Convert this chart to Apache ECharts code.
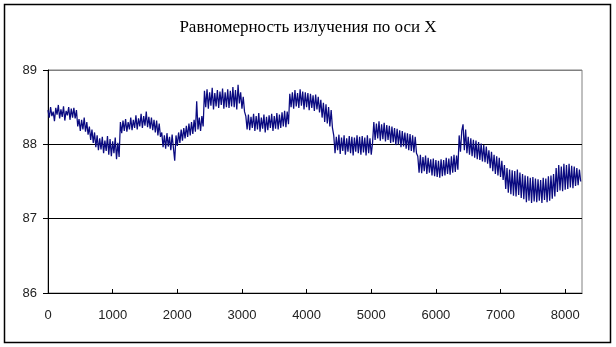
<!DOCTYPE html>
<html>
<head>
<meta charset="utf-8">
<script src="https://cdn.jsdelivr.net/npm/echarts@6/dist/echarts.min.js"></script>
<style>html,body{margin:0;padding:0;background:#fff}#c{width:616px;height:347px}</style>
</head>
<body>
<div id="c"></div>
<script>
var titleText = 'Равномерность излучения по оси X';
var sampleStep = 20; // x distance between samples
var xTickLabels = [0, 1000, 2000, 3000, 4000, 5000, 6000, 7000, 8000];
var yTickLabels = [86, 87, 88, 89];
var values = [
88.46,88.36,88.50,88.38,88.44,88.31,88.49,88.40,88.53,88.35,88.47,88.37,88.51,88.32,88.45,88.39,88.50,88.33,88.48,88.36,
88.49,88.35,88.46,88.24,88.34,88.18,88.33,88.20,88.36,88.17,88.30,88.13,88.24,88.06,88.20,88.02,88.16,87.96,88.12,87.92,
88.08,87.93,88.10,87.88,88.05,87.91,88.11,87.86,88.07,87.84,88.04,87.88,88.09,87.80,88.02,87.83,88.30,88.15,88.32,88.18,
88.34,88.17,88.30,88.20,88.36,88.19,88.33,88.22,88.39,88.20,88.35,88.24,88.41,88.22,88.38,88.25,88.44,88.23,88.37,88.21,
88.36,88.19,88.33,88.16,88.32,88.12,88.28,88.10,88.16,87.96,88.12,87.94,88.15,87.97,88.10,87.92,88.13,87.95,87.78,88.12,
87.98,88.16,88.02,88.20,88.05,88.22,88.08,88.25,88.10,88.28,88.12,88.30,88.14,88.33,88.17,88.58,88.20,88.36,88.18,88.38,
88.24,88.72,88.50,88.74,88.48,88.70,88.52,88.76,88.47,88.69,88.51,88.73,88.49,88.71,88.53,88.75,88.48,88.70,88.50,88.74,
88.49,88.72,88.51,88.77,88.50,88.73,88.47,88.80,88.55,88.70,88.48,88.64,88.44,88.38,88.20,88.40,88.19,88.37,88.22,88.41,
88.18,88.38,88.20,88.42,88.17,88.36,88.21,88.40,88.16,88.37,88.19,88.39,88.22,88.41,88.18,88.38,88.21,88.42,88.20,88.40,
88.22,88.43,88.24,88.45,88.23,88.44,88.27,88.68,88.50,88.70,88.48,88.73,88.51,88.69,88.49,88.74,88.52,88.71,88.47,88.70,
88.50,88.69,88.46,88.68,88.49,88.66,88.45,88.67,88.47,88.64,88.43,88.60,88.36,88.56,88.30,88.54,88.28,88.50,88.24,88.46,
88.22,88.12,87.88,88.10,87.92,88.13,87.87,88.09,87.91,88.12,87.86,88.08,87.90,88.11,87.88,88.10,87.85,88.09,87.90,88.12,
87.88,88.10,87.86,88.11,87.89,88.09,87.85,88.12,87.88,88.08,87.86,88.02,88.30,88.06,88.28,88.08,88.31,88.05,88.27,88.07,
88.29,88.04,88.26,88.06,88.25,88.02,88.24,88.03,88.22,87.99,88.21,88.00,88.19,87.96,88.18,87.97,88.16,87.94,88.15,87.92,
88.14,87.91,88.12,87.89,88.10,87.88,87.84,87.62,87.86,87.61,87.83,87.64,87.85,87.60,87.82,87.62,87.80,87.58,87.81,87.57,
87.79,87.56,87.78,87.55,87.80,87.57,87.79,87.58,87.82,87.60,87.81,87.59,87.84,87.62,87.86,87.63,87.85,87.66,88.12,87.90,
88.18,88.27,87.92,88.20,87.88,88.10,87.86,88.08,87.84,88.06,87.82,88.05,87.80,88.03,87.79,88.01,87.77,87.99,87.76,87.97,
87.74,87.92,87.68,87.90,87.64,87.86,87.60,87.84,87.58,87.82,87.56,87.78,87.52,87.72,87.40,87.68,87.35,87.66,87.33,87.65,
87.31,87.64,87.30,87.66,87.32,87.62,87.28,87.60,87.26,87.58,87.22,87.57,87.24,87.55,87.21,87.56,87.23,87.54,87.22,87.53,
87.24,87.52,87.21,87.55,87.25,87.54,87.22,87.57,87.24,87.58,87.27,87.60,87.30,87.68,87.36,87.72,87.38,87.70,87.37,87.74,
87.39,87.72,87.40,87.74,87.42,87.71,87.41,87.70,87.44,87.68,87.45,87.66,87.50
];
var xMax = 8260;

var seriesData = values.map(function (v, i) { return [i * sampleStep, v]; });

var chart = echarts.init(document.getElementById('c'), null, {renderer: 'canvas'});
chart.setOption({
  animation: false,
  backgroundColor: '#fff',
  title: {
    text: titleText, left: 'center', top: 14,
    textStyle: {fontFamily: 'Liberation Serif', fontSize: 17, fontWeight: 'normal', color: '#000'}
  },
  graphic: [{
    type: 'rect', shape: {x: 4.5, y: 4.5, width: 606, height: 338},
    style: {fill: null, stroke: '#000', lineWidth: 1.5}, z: 100
  }],
  grid: {left: 48, right: 34, top: 70, bottom: 54, show: true, borderColor: '#808080', borderWidth: 1, backgroundColor: '#fff'},
  xAxis: {
    type: 'value', min: 0, max: xMax, interval: 1000,
    axisLine: {lineStyle: {color: '#000', width: 1}},
    axisTick: {inside: true, length: 4, lineStyle: {color: '#000'}, customValues: xTickLabels},
    axisLabel: {customValues: xTickLabels, color: '#222', fontFamily: 'Liberation Sans', fontSize: 13, margin: 16,
      formatter: function (v) { return String(v); }},
    splitLine: {show: false}
  },
  yAxis: {
    type: 'value', min: 86, max: 89, interval: 1,
    axisLine: {show: true, lineStyle: {color: '#000', width: 1}},
    axisTick: {show: true, length: 5, lineStyle: {color: '#000'}},
    axisLabel: {color: '#222', fontFamily: 'Liberation Sans', fontSize: 13, margin: 11,
      formatter: function (v) { return yTickLabels.indexOf(v) >= 0 ? String(v) : ''; }},
    splitLine: {show: true, lineStyle: {color: ['#000', '#000', '#000', '#808080'], width: 1}}
  },
  series: [{
    type: 'line', data: seriesData, showSymbol: false, symbol: 'none',
    lineStyle: {color: '#0a0a80', width: 1.25}, z: 1
  }]
});
</script>
</body>
</html>
